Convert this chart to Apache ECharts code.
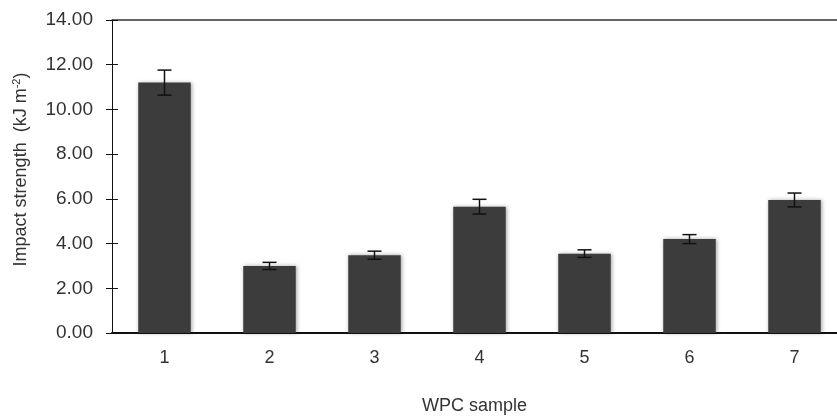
<!DOCTYPE html>
<html>
<head>
<meta charset="utf-8">
<script src="https://cdn.jsdelivr.net/npm/echarts@6/dist/echarts.min.js"></script>
<style>
  html, body { margin: 0; padding: 0; background: #fff; }
  #main { width: 837px; height: 418px; }
</style>
</head>
<body>
<div id="main"></div>
<script>
var samples = ['1', '2', '3', '4', '5', '6', '7']
var impact = [11.2, 3.0, 3.48, 5.65, 3.55, 4.2, 5.95]
var errs = [0.56, 0.16, 0.18, 0.33, 0.17, 0.2, 0.31]

var chart = echarts.init(document.getElementById('main'))
var font = 'Liberation Sans, Arial, sans-serif'

var option = {
  animation: false,
  grid: {
    left: 112,
    top: 20,
    width: 735,
    height: 313,
    outerBoundsMode: 'none'
  },
  xAxis: [{
    type: 'category',
    data: samples,
    position: 'bottom',
    axisLine: { lineStyle: { color: '#111', width: 2 } },
    axisTick: { length: 6, lineStyle: { color: '#111', width: 2 } },
    axisLabel: { fontFamily: font, fontSize: 18, color: '#333', margin: 16 },
    name: 'WPC sample',
    nameLocation: 'middle',
    nameGap: 64,
    nameTextStyle: { fontFamily: font, fontSize: 18, color: '#333', padding: [0, 10, 0, 0] }
  }, {
    // ticks going up, so they cross the axis like the original
    type: 'category',
    data: samples,
    position: 'bottom',
    axisLine: { show: false },
    axisTick: { inside: true, length: 6, lineStyle: { color: '#111', width: 2 } },
    axisLabel: { show: false }
  }, {
    // top border line
    type: 'category',
    data: samples,
    position: 'top',
    axisLine: { lineStyle: { color: '#333', width: 1.5 } },
    axisTick: { show: false },
    axisLabel: { show: false }
  }],
  yAxis: [{
    type: 'value',
    min: 0,
    max: 14,
    interval: 2,
    axisLine: { show: true, lineStyle: { color: '#111', width: 1 } },
    axisTick: { show: true, length: 6, lineStyle: { color: '#111' } },
    splitLine: { show: false },
    axisLabel: {
      fontFamily: font, fontSize: 19, color: '#333', margin: 19,
      formatter: function (v) { return v.toFixed(2) }
    },
    name: '{a|Impact strength  (kJ m}{s|-2}{a|)}',
    nameLocation: 'middle',
    nameGap: 81,
    nameTextStyle: {
      padding: [0, 0, 0, 14],
      rich: {
        a: { fontFamily: font, fontSize: 18, color: '#333' },
        s: { fontFamily: font, fontSize: 11, color: '#333', verticalAlign: 'top', padding: [0, 0, 9, 0] }
      }
    }
  }, {
    type: 'value',
    min: 0,
    max: 14,
    interval: 2,
    position: 'left',
    axisLine: { show: false },
    axisTick: { show: true, inside: true, length: 6, lineStyle: { color: '#111' } },
    splitLine: { show: false },
    axisLabel: { show: false }
  }],
  series: [{
    type: 'bar',
    data: impact,
    barWidth: '50%',
    itemStyle: {
      color: '#3c3c3c',
      shadowBlur: 4,
      shadowColor: 'rgba(0,0,0,0.35)',
      shadowOffsetX: 1
    }
  }, {
    type: 'custom',
    data: impact.map(function (v, i) { return [i, v - errs[i], v + errs[i]] }),
    z: 10,
    renderItem: function (params, api) {
      var lo = api.coord([api.value(0), api.value(1)])
      var hi = api.coord([api.value(0), api.value(2)])
      var w = 7
      var st = { stroke: '#111', lineWidth: 1.5 }
      return {
        type: 'group',
        children: [
          { type: 'line', shape: { x1: hi[0], y1: hi[1], x2: lo[0], y2: lo[1] }, style: st },
          { type: 'line', shape: { x1: hi[0] - w, y1: hi[1], x2: hi[0] + w, y2: hi[1] }, style: st },
          { type: 'line', shape: { x1: lo[0] - w, y1: lo[1], x2: lo[0] + w, y2: lo[1] }, style: st }
        ]
      }
    }
  }]
}

chart.setOption(option)
</script>
</body>
</html>
